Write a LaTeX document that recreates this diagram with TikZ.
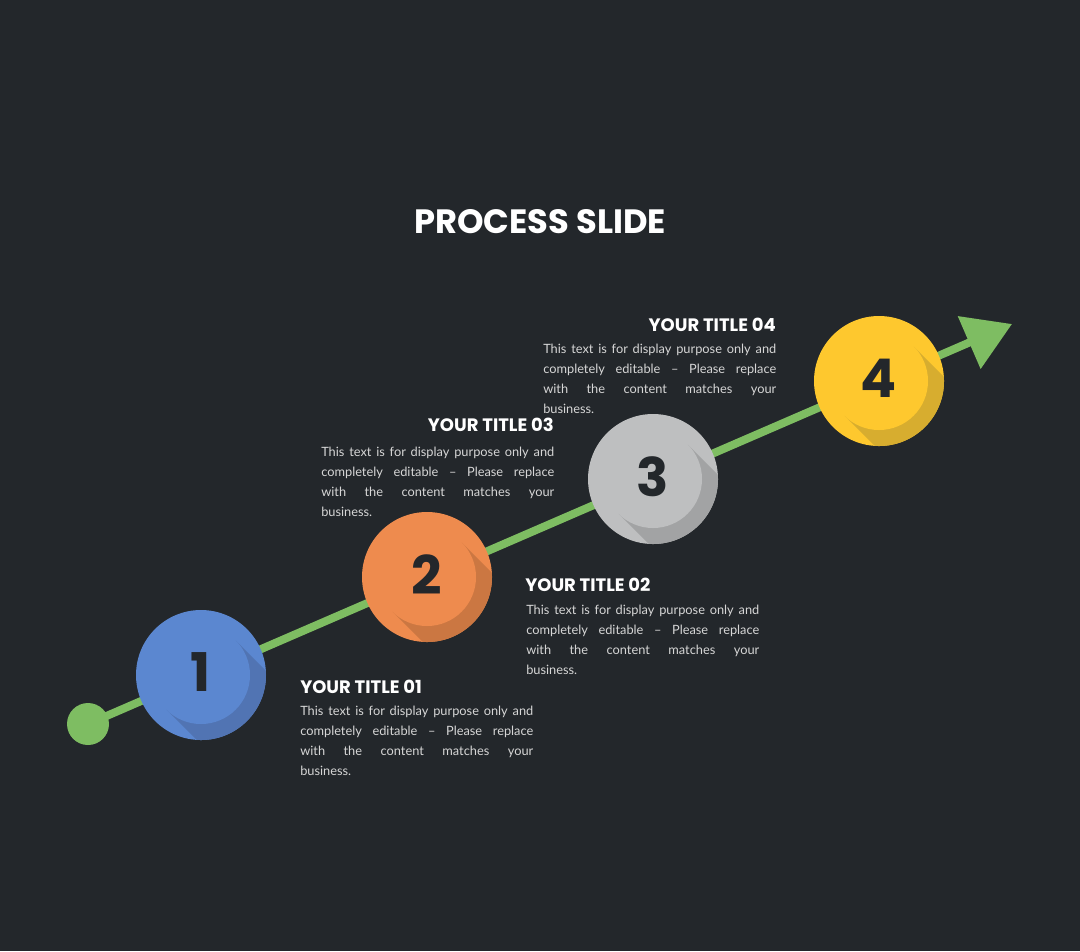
\documentclass[tikz,border=0pt]{standalone}
\usepackage{fontspec}
\setmainfont{Lato}
\newfontfamily\pop{Poppins}
\usetikzlibrary{arrows.meta}
\definecolor{bg}{HTML}{23272B}
\definecolor{grn}{HTML}{7EBD62}
\definecolor{blueM}{HTML}{5B87D0}
\definecolor{blueS}{HTML}{5174B3}
\definecolor{orM}{HTML}{EE8B4E}
\definecolor{orS}{HTML}{CB7742}
\definecolor{grM}{HTML}{BEBFC0}
\definecolor{grS}{HTML}{A2A3A4}
\definecolor{yeM}{HTML}{FEC82E}
\definecolor{yeS}{HTML}{D7AD2F}
\definecolor{bodyc}{HTML}{D6D6D6}
\tikzset{
  circ/.style={circle,minimum size=97.5pt,inner sep=0pt,draw=none},
  num/.style={font=\pop\bfseries\fontsize{40}{40}\selectfont,text=bg,inner sep=0pt},
  ttl/.style={font=\pop\bfseries\fontsize{13.5}{15}\selectfont,text=white,inner sep=0pt},
  body/.style={font=\fontsize{9.6}{15}\selectfont,text=bodyc,inner sep=0pt,text width=174.75pt,align=justify},
  gline/.style={draw=grn,line width=6pt},
}
\newcommand{\stepdisc}[6]{%
  \node[circ,fill=#4] (#1) at (#2,#3) {};
  \begin{scope}
    \clip (#2,#3) circle (48.75pt);
    \fill[#5] (#2+34.6,#3-34.6) -- (#2+134.6,#3+65.4) -- (#2+65.4,#3+134.6) -- (#2-34.6,#3+34.6) -- cycle;
    \fill[#4] (#2,#3) circle (36.75pt);
  \end{scope}
  \node[num] at ([yshift=2pt]#1.center) {#6};
}
\begin{document}
\begin{tikzpicture}[x=0.75pt,y=-0.75pt]
\fill[bg] (0,0) rectangle (1080,951);
\useasboundingbox (0,0) rectangle (1080,951);
\node[font=\pop\bfseries\fontsize{25.3}{28}\selectfont,text=white] (title) at (540,222) {PROCESS SLIDE};
% line
\node[circle,fill=grn,minimum size=31.5pt,inner sep=0pt] (start) at (88,724) {};
\coordinate (tip) at (1012,324);
\draw[gline,-{Triangle[length=35pt,width=41.6pt]}] (start.center) -- (tip);
% discs
\stepdisc{c1}{201}{675}{blueM}{blueS}{1}
\stepdisc{c2}{427}{577}{orM}{orS}{2}
\stepdisc{c3}{653}{479}{grM}{grS}{3}
\stepdisc{c4}{879}{381}{yeM}{yeS}{4}
% texts
\node[ttl,anchor=base west] (t1) at (300,693) {YOUR TITLE 01};
\node[body,anchor=base west] (b1) at (300,715) {This text is for display purpose only and\linebreak completely editable – Please replace\linebreak with the content matches your\linebreak business.};
\node[ttl,anchor=base west] (t2) at (525,591) {YOUR TITLE 02};
\node[body,anchor=base west] (b2) at (526,614) {This text is for display purpose only and\linebreak completely editable – Please replace\linebreak with the content matches your\linebreak business.};
\node[ttl,anchor=base east] (t3) at (554,431) {YOUR TITLE 03};
\node[body,anchor=base west] (b3) at (321,456) {This text is for display purpose only and\linebreak completely editable – Please replace\linebreak with the content matches your\linebreak business.};
\node[ttl,anchor=base east] (t4) at (776,331) {YOUR TITLE 04};
\node[body,anchor=base west] (b4) at (543,353) {This text is for display purpose only and\linebreak completely editable – Please replace\linebreak with the content matches your\linebreak business.};
\end{tikzpicture}
\end{document}
